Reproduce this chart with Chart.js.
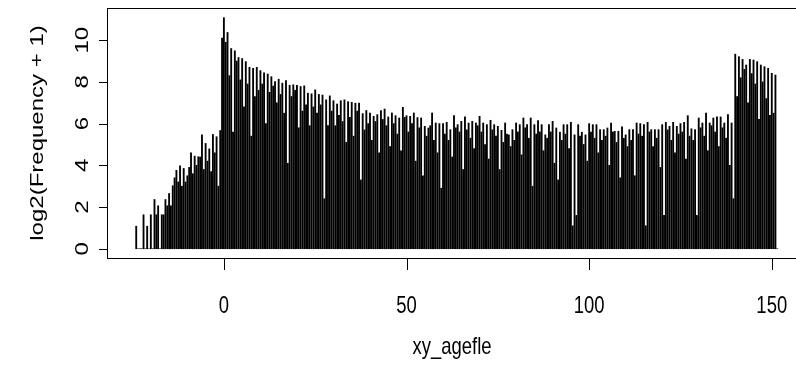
<!DOCTYPE html>
<html lang="en">

<head>
    <meta charset="UTF-8">
    <title>xy_agefle</title>
    <style>
        body {
            margin: 0;
            padding: 0;
            background: #fff;
            overflow: hidden;
        }

        #chart {
            display: block;
        }
    </style>
</head>

<body>
    <canvas id="chart" width="805" height="382"></canvas>

    <script src="https://cdn.jsdelivr.net/npm/chart.js"></script>
    <script>
        // log2(Frequency + 1) at each whole age, starting at -24
        const firstAge = -24;
        const wholeValues = [
            1.08, 0, 1.63, 1.08, 1.63, 2.36, 2.06, 1.63, 2.36, 2.65, 3.02, 3.76,
            3.97, 3.85, 3.5, 4.6, 4.44, 4.41, 5.46, 5.05, 4.79, 5.48, 5.37, 5.67,
            11.08, 10.37, 9.6, 9.49, 9.17, 9.12, 8.97, 8.7, 8.65, 8.7,
            8.54, 8.44, 8.38, 8.25, 8.02, 8.13, 7.94, 8.06, 7.84, 7.86,
            7.84, 7.78, 7.81, 7.46, 7.43, 7.62, 7.4, 7.37, 7.14, 7.33,
            7.1, 6.94, 7.1, 7.14, 7.05, 7.02, 6.98, 6.98, 6.48, 6.63,
            6.51, 6.35, 6.43, 6.63, 6.7, 6.32, 6.51, 6.38, 6.27, 6.78,
            6.38, 6.35, 6.51, 6.29, 6.27, 5.87, 5.79, 6.51, 6.03, 6.0,
            6.0, 6.06, 5.71, 6.38, 5.95, 6.11, 6.32, 6.03, 6.11, 6.03,
            6.35, 6.03, 5.95, 6.16, 5.95, 5.87, 5.68, 6.03, 5.46, 5.71,
            6.03, 5.95, 6.27, 5.95, 6.27, 5.95, 6.14, 5.95, 5.46, 5.95,
            6.11, 5.79, 5.59, 5.95, 5.95, 6.06, 5.46, 5.95, 5.59, 5.46,
            6.0, 5.95, 5.95, 5.71, 5.71, 5.79, 6.03, 5.63, 5.63, 5.84,
            5.46, 5.71, 5.71, 6.03, 6.0, 5.95, 6.06, 5.71, 5.71, 5.71,
            5.95, 6.06, 5.87, 6.06, 5.87, 6.0, 6.06, 6.38, 5.75, 5.71,
            6.27, 6.03, 6.51, 6.03, 6.27, 6.32, 6.32, 6.03, 6.43, 6.03,
            9.33, 9.21, 9.08, 8.81, 9.08, 9.05, 8.97, 8.81, 8.73, 8.65,
            8.41, 8.33
        ];

        // values half a year after each whole age (-23.5 ... 151.5)
        const halfValues = [
            0, 0, 0, 0, 0, 1.63, 0, 1.63, 2.06, 2.06, 3.4, 3.2,
            3.0, 3.2, 3.9, 3.6, 4.0, 4.4, 3.8, 4.2, 3.7, 4.6, 3.0, 10.1,
            9.9, 8.3, 5.6, 9.0, 8.1, 6.8, 7.9, 5.4, 7.3, 7.6,
            7.9, 6.0, 7.5, 7.8, 7.0, 7.4, 6.5, 4.1, 7.3, 7.6,
            5.8, 6.6, 6.9, 5.9, 6.8, 6.5, 6.9, 2.4, 5.9, 6.6,
            5.9, 6.4, 6.1, 5.1, 6.3, 5.4, 6.6, 3.3, 5.7, 6.0,
            5.2, 6.1, 4.6, 6.2, 5.9, 4.9, 6.0, 5.5, 4.7, 6.3,
            5.6, 6.0, 4.2, 5.8, 3.5, 5.4, 5.9, 5.2, 4.6, 2.9,
            5.5, 5.2, 4.4, 5.8, 5.6, 3.8, 5.7, 5.3, 4.8, 5.9,
            5.6, 5.0, 4.3, 5.7, 5.4, 3.8, 5.1, 5.5, 4.9, 5.2,
            5.6, 4.5, 5.8, 5.3, 3.0, 5.5, 5.6, 4.7, 5.3, 5.6,
            4.1, 3.3, 5.2, 5.5, 4.8, 1.1, 1.6, 5.4, 5.0, 4.2,
            5.6, 5.3, 4.6, 5.2, 5.4, 4.0, 5.6, 5.1, 3.4, 5.3,
            4.9, 5.2, 3.5, 5.5, 5.4, 1.1, 5.6, 4.9, 5.3, 3.9,
            1.6, 5.7, 5.2, 4.6, 5.5, 5.6, 4.3, 5.4, 5.2, 1.6,
            5.8, 5.4, 4.7, 5.9, 5.6, 4.9, 5.8, 5.3, 4.0, 2.4,
            7.3, 8.2, 8.6, 7.0, 8.4, 7.9, 6.2, 8.0, 7.2, 6.4,
            6.5, 0
        ];

        const xTicks = [0, 50, 100, 150];
        const yTicks = [0, 2, 4, 6, 8, 10];
        const xTitle = 'xy_agefle';
        const yTitle = 'log2(Frequency + 1)';

        const wholePoints = wholeValues.map((v, i) => ({ x: firstAge + i, y: v }));
        const halfPoints = halfValues.map((v, i) => ({ x: firstAge + i + 0.5, y: v }));

        // text in the reference is squeezed sideways, so draw it scaled
        const FONT = '24px "Liberation Sans", Arial, sans-serif';
        const SQUEEZE = 0.77;

        function squeezedText(ctx, text, px, py, rotate) {
            ctx.save();
            ctx.translate(px, py);
            ctx.scale(SQUEEZE, 1);
            if (rotate) ctx.rotate(-Math.PI / 2);
            ctx.textAlign = 'center';
            ctx.textBaseline = 'alphabetic';
            ctx.fillText(text, 0, 0);
            ctx.restore();
        }

        // box, ticks and labels in base R style
        const rAxes = {
            id: 'rAxes',
            afterDraw(chart) {
                const ctx = chart.ctx;
                const area = chart.chartArea;
                const x = chart.scales.x;
                const y = chart.scales.y;

                ctx.save();
                ctx.strokeStyle = '#000';
                ctx.fillStyle = '#000';
                ctx.lineWidth = 1;
                ctx.strokeRect(Math.round(area.left) + 0.5, Math.round(area.top) + 0.5,
                    Math.round(area.right - area.left), Math.round(area.bottom - area.top));

                ctx.font = FONT;
                ctx.beginPath();
                xTicks.forEach(t => {
                    const px = Math.round(x.getPixelForValue(t)) + 0.5;
                    ctx.moveTo(px, area.bottom);
                    ctx.lineTo(px, area.bottom + 12);
                });
                yTicks.forEach(t => {
                    const py = Math.round(y.getPixelForValue(t)) + 0.5;
                    ctx.moveTo(area.left, py);
                    ctx.lineTo(area.left - 8, py);
                });
                ctx.stroke();

                xTicks.forEach(t => squeezedText(ctx, String(t), x.getPixelForValue(t), 313, false));
                yTicks.forEach(t => squeezedText(ctx, String(t), 88, y.getPixelForValue(t), true));

                squeezedText(ctx, xTitle, (area.left + area.right) / 2 - 2, 354, false);
                squeezedText(ctx, yTitle, 43, (area.top + area.bottom) / 2, true);
                ctx.restore();
            }
        };

        new Chart(document.getElementById('chart'), {
            type: 'bar',
            data: {
                datasets: [
                    {
                        data: halfPoints,
                        backgroundColor: '#000',
                        barThickness: 1.2,
                        grouped: false
                    },
                    {
                        data: wholePoints,
                        backgroundColor: '#000',
                        barThickness: 1.2,
                        grouped: false
                    }
                ]
            },
            options: {
                responsive: false,
                animation: false,
                devicePixelRatio: 1,
                layout: {
                    padding: { left: 107, top: 8, right: 4, bottom: 124 }
                },
                plugins: {
                    legend: { display: false },
                    tooltip: { enabled: false }
                },
                scales: {
                    x: {
                        type: 'linear',
                        display: false,
                        offset: false,
                        min: -32,
                        max: 158
                    },
                    y: {
                        type: 'linear',
                        display: false,
                        min: -0.444,
                        max: 11.544
                    }
                }
            },
            plugins: [rAxes]
        });
    </script>
</body>

</html>
